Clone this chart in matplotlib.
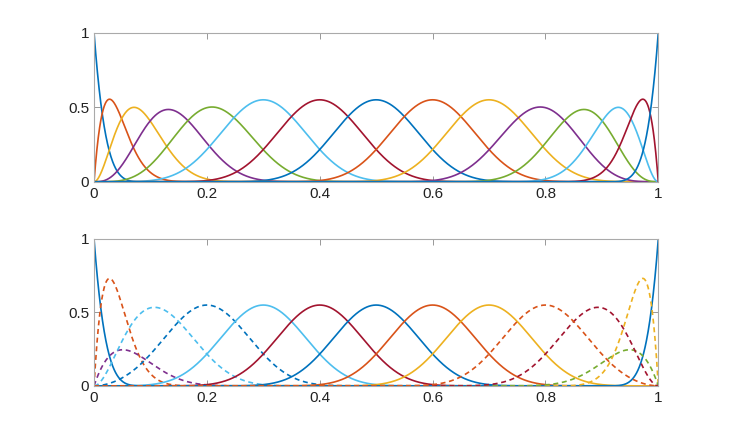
import numpy as np
from matplotlib import pyplot as plt

# quintic clamped B-spline basis, uniform interior knots
degree = 5
knots = [0, 0, 0, 0, 0, 0, 0.1, 0.2, 0.3, 0.4, 0.5, 0.6, 0.7, 0.8, 0.9, 1, 1, 1, 1, 1, 1]

# matlab default colour order
blue = '#0072BD'
orange = '#D95319'
yellow = '#EDB120'
purple = '#7E2F8E'
green = '#77AC30'
ltblue = '#4DBEEE'
dkred = '#A2142F'
top_colors = [blue, orange, yellow, purple, green, ltblue, dkred]

# bottom panel: boundary functions as combinations of B0..B4 (left end),
# mirrored on B14..B10 at the right end
left_coefs = [
    [1, 0, 0, 0, 0],
    [0, 1.32, 0, 0, 0],
    [0, 0.23, 0.35, 0, 0],
    [0, 0, 0.5, 0.8, 0],
    [0, 0, 0.05, 0.2, 1],
]
left_colors = [blue, orange, purple, ltblue, blue]
left_styles = ['-', '--', '--', '--', '--']
right_colors = [blue, yellow, green, dkred, orange]
right_styles = ['-', '--', '--', '--', '--']
mid_index = [5, 6, 7, 8, 9]
mid_colors = [ltblue, dkred, blue, orange, yellow]


def basis(t, p, x):
    t = np.asarray(t, dtype=float)
    m = len(t)
    N = np.zeros((len(x), m - 1))
    for i in range(m - 1):
        N[:, i] = (x >= t[i]) & (x < t[i + 1])
    last = max(i for i in range(m - 1) if t[i] < t[i + 1])
    N[x >= t[-1], last] = 1.0
    for k in range(1, p + 1):
        M = np.zeros((len(x), m - 1 - k))
        for i in range(m - 1 - k):
            d1 = t[i + k] - t[i]
            d2 = t[i + k + 1] - t[i + 1]
            if d1 > 0:
                M[:, i] += (x - t[i]) / d1 * N[:, i]
            if d2 > 0:
                M[:, i] += (t[i + k + 1] - x) / d2 * N[:, i + 1]
        N = M
    return N


def style(ls):
    if ls == '--':
        return dict(ls='--', dashes=(3, 2.2))
    return dict(ls='-')


x = np.linspace(0, 1, 2001)
B = basis(knots, degree, x)
n = B.shape[1]

fig = plt.figure(figsize=(7.29, 4.36), dpi=100)
ax1 = fig.add_axes([0.129, 0.583, 0.774, 0.342])
ax2 = fig.add_axes([0.129, 0.115, 0.774, 0.337])

for i in range(n):
    ax1.plot(x, B[:, i], color=top_colors[i % 7], lw=1.2)

for c, col, ls in zip(left_coefs, left_colors, left_styles):
    y = B[:, :5] @ np.array(c)
    ax2.plot(x, y, color=col, lw=1.2, **style(ls))
for i, col in zip(mid_index, mid_colors):
    ax2.plot(x, B[:, i], color=col, lw=1.2)
for c, col, ls in zip(left_coefs, right_colors, right_styles):
    y = B[:, n - 5:][:, ::-1] @ np.array(c)
    ax2.plot(x, y, color=col, lw=1.2, **style(ls))

for ax in (ax1, ax2):
    ax.set_xlim(0, 1)
    ax.set_ylim(0, 1)
    ax.set_xticks([0, 0.2, 0.4, 0.6, 0.8, 1])
    ax.set_xticklabels(['0', '0.2', '0.4', '0.6', '0.8', '1'])
    ax.set_yticks([0, 0.5, 1])
    ax.set_yticklabels(['0', '0.5', '1'])
    ax.tick_params(direction='in', length=4, width=0.6, colors='#888888',
                   labelcolor='#222222', labelsize=11, top=True, right=True,
                   labeltop=False, labelright=False)
    for s in ax.spines.values():
        s.set_color('#aaaaaa')
        s.set_linewidth(0.8)
    for lab in ax.get_xticklabels() + ax.get_yticklabels():
        lab.set_family(['Liberation Sans', 'DejaVu Sans'])

plt.savefig('out.png', dpi=100)
